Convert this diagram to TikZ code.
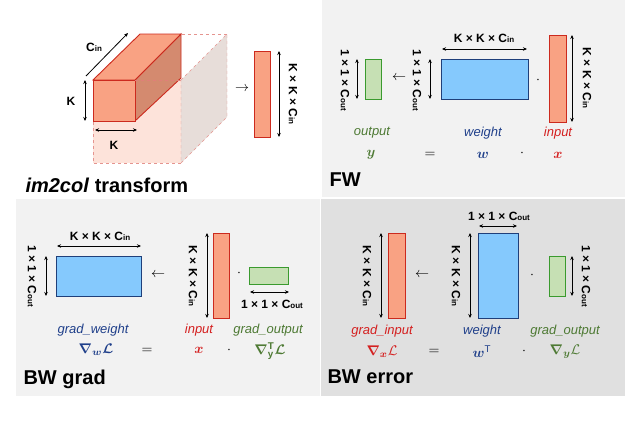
\documentclass[tikz,border=0pt]{standalone}
\usepackage{amsmath,amssymb,bm,graphicx}
\usepackage{fontspec}
\setmainfont{Liberation Sans}
\usetikzlibrary{arrows.meta}
\definecolor{rf}{HTML}{F9A283}\definecolor{rs}{HTML}{CC2A1E}
\definecolor{bf}{HTML}{85C9FD}\definecolor{bs}{HTML}{1F3F7A}
\definecolor{gf}{HTML}{C6E0B4}\definecolor{gs}{HTML}{3A9A2E}
\definecolor{gt}{HTML}{4E7A34}\definecolor{bt}{HTML}{1F3F8A}\definecolor{rt}{HTML}{D42020}
\newcommand{\ssub}[1]{{\fontsize{8}{9}\selectfont #1}}
\newcommand{\dimk}{K × K × C\ssub{in}}
\newcommand{\dimo}{1 × 1 × C\ssub{out}}
\newcommand{\MM}[1]{\scalebox{1.4}{$#1$}}
\tikzset{
 red box/.style={draw=rs,fill=rf,line width=0.9pt},
 blue box/.style={draw=bs,fill=bf,line width=0.9pt},
 green box/.style={draw=gs,fill=gf,line width=0.9pt},
 dim/.style={{Stealth[length=4pt,width=3.5pt]}-{Stealth[length=4pt,width=3.5pt]},line width=0.8pt},
 dl/.style={font=\bfseries\fontsize{12}{14}\selectfont},
 rdl/.style={dl,rotate=-90},
 lab/.style={font=\itshape\fontsize{13}{15}\selectfont},
 eq/.style={},
 ttl/.style={font=\bfseries\fontsize{20}{22}\selectfont,anchor=west},
 arr/.style={}
}
\begin{document}
\begin{tikzpicture}[x=1pt,y=-1pt]
\useasboundingbox (0,0) rectangle (640,429);
% panels
\fill[gray!10] (322,0) rectangle (625,197);
\fill[gray!10] (16,199) rectangle (320,396);
\fill[gray!24] (321,199) rectangle (625,396);
% im2col
\draw[rs!50,dashed,fill=rf!30] (93,80) rectangle (181,163);
\draw[rs!50,dashed,fill=rf!40!gray!30] (181,80) -- (227,34) -- (227,117) -- (181,163) -- cycle;
\draw[rs!50,dashed] (140,34) -- (227,34);
\draw[red box,fill=rf!85!black] (135,80) -- (181,34) -- (181,78) -- (135,121) -- cycle;
\draw[red box] (93,80) -- (140,34) -- (181,34) -- (135,80) -- cycle;
\draw[red box] (93,80) rectangle (135,121);
\draw[rs!60,dashed] (135,80) -- (181,80);
\coordinate (c1) at (86,76); \coordinate (c2) at (128,33);
\draw[-{Stealth[length=4pt,width=3.5pt]},line width=0.8pt] (c1) -- (c2);
\node[dl] (cin) at (94,47) {C\ssub{in}};
\coordinate (k1) at (85,80); \coordinate (k2) at (85,121);
\draw[dim] (k1) -- (k2);
\node[dl] (kv) at (71,101) {K};
\coordinate (k3) at (95,130); \coordinate (k4) at (137,130);
\draw[dim] (k3) -- (k4);
\node[dl] (kh) at (114,145) {K};
\node[arr] (a0) at (242,89) {\MM{\rightarrow}};
\draw[red box] (254,51) rectangle (270,137);
\coordinate (v1) at (279,51); \coordinate (v2) at (279,137);
\draw[dim] (v1) -- (v2);
\node[rdl] (l0) at (293,94) {\dimk};
\node[ttl] (t0) at (22,185) {\textit{im2col} transform};
% FW
\draw[green box] (365,59) rectangle (381,99);
\coordinate (f1) at (357,59); \coordinate (f2) at (357,99); \draw[dim] (f1) -- (f2);
\node[rdl] (fl1) at (345,80) {\dimo};
\node[arr] (fa) at (399,78) {\MM{\leftarrow}};
\node[rdl] (fl2) at (417,80) {\dimo};
\coordinate (f3) at (430,59); \coordinate (f4) at (430,99); \draw[dim] (f3) -- (f4);
\draw[blue box] (441,59) rectangle (528,99);
\coordinate (f5) at (442,49); \coordinate (f6) at (527,49); \draw[dim] (f5) -- (f6);
\node[dl] (fl3) at (484,38) {\dimk};
\node[eq] (fd) at (538,80) {\MM{\cdot}};
\draw[red box] (549,35) rectangle (566,122);
\coordinate (f7) at (572,35); \coordinate (f8) at (572,122); \draw[dim] (f7) -- (f8);
\node[rdl] (fl4) at (587,78) {\dimk};
\node[lab,text=gt] at (372,133) {output};
\node[lab,text=bt] at (483,133) {weight};
\node[lab,text=rt] at (558,133) {input};
\node[eq,text=gt] at (371,155) {\MM{\bm{y}}};
\node[eq] at (430,155) {\MM{=}};
\node[eq,text=bt] at (483,155) {\MM{\bm{w}}};
\node[eq] at (522,153) {\MM{\cdot}};
\node[eq,text=rt] at (558,155) {\MM{\bm{x}}};
\node[ttl] (t1) at (326,180) {FW};
% BW grad
\draw[blue box] (56,256) rectangle (141,296);
\coordinate (g1) at (57,246); \coordinate (g2) at (141,246); \draw[dim] (g1) -- (g2);
\node[dl] at (100,236) {\dimk};
\coordinate (g3) at (46,256); \coordinate (g4) at (46,296); \draw[dim] (g3) -- (g4);
\node[rdl] at (32,276) {\dimo};
\node[arr] at (158,275) {\MM{\leftarrow}};
\draw[red box] (213,233) rectangle (229,318);
\coordinate (g5) at (207,233); \coordinate (g6) at (207,318); \draw[dim] (g5) -- (g6);
\node[rdl] at (193,276) {\dimk};
\node[eq] at (239,273) {\MM{\cdot}};
\draw[green box] (249,267) rectangle (288,284);
\coordinate (g7) at (250,292); \coordinate (g8) at (289,292); \draw[dim] (g7) -- (g8);
\node[dl] at (272,304) {\dimo};
\node[lab,text=bt] at (93,330) {grad\_weight};
\node[lab,text=rt] at (199,330) {input};
\node[lab,text=gt] at (268,330) {grad\_output};
\node[eq,text=bt] at (96,350) {\MM{\bm{\nabla_{w}\mathcal{L}}}};
\node[eq] at (147,351) {\MM{=}};
\node[eq,text=rt] at (199,350) {\MM{\bm{x}}};
\node[eq] at (229,350) {\MM{\cdot}};
\node[eq,text=gt,inner sep=0pt] at (270,351) {\MM{\bm{\nabla^{\mathrm{T}}_{\mathrm{y}}\mathcal{L}}}};
\node[ttl] at (20,379) {BW grad};
% BW error
\draw[red box] (388,233) rectangle (405,318);
\coordinate (e1) at (381,233); \coordinate (e2) at (381,318); \draw[dim] (e1) -- (e2);
\node[rdl] at (367,276) {\dimk};
\node[arr] at (422,275) {\MM{\leftarrow}};
\node[rdl] at (456,276) {\dimk};
\coordinate (e3) at (470,233); \coordinate (e4) at (470,318); \draw[dim] (e3) -- (e4);
\draw[blue box] (478,233) rectangle (518,318);
\coordinate (e5) at (479,226); \coordinate (e6) at (517,226); \draw[dim] (e5) -- (e6);
\node[dl] at (499,216) {\dimo};
\node[eq] at (532,275) {\MM{\cdot}};
\draw[green box] (549,256) rectangle (565,296);
\coordinate (e7) at (572,256); \coordinate (e8) at (572,296); \draw[dim] (e7) -- (e8);
\node[rdl] at (586,276) {\dimo};
\node[lab,text=rt] at (382,331) {grad\_input};
\node[lab,text=bt] at (482,331) {weight};
\node[lab,text=gt] at (565,331) {grad\_output};
\node[eq,text=rt] at (382,352) {\MM{\bm{\nabla_{x}}\mathcal{L}}};
\node[eq] at (434,352) {\MM{=}};
\node[eq,text=bt] at (482,352) {\MM{\bm{w}^{\mathrm{T}}}};
\node[eq] at (524,351) {\MM{\cdot}};
\node[eq,text=gt] at (565,352) {\MM{\bm{\nabla_{y}}\mathcal{L}}};
\node[ttl] at (324,377) {BW error};
\end{tikzpicture}
\end{document}
